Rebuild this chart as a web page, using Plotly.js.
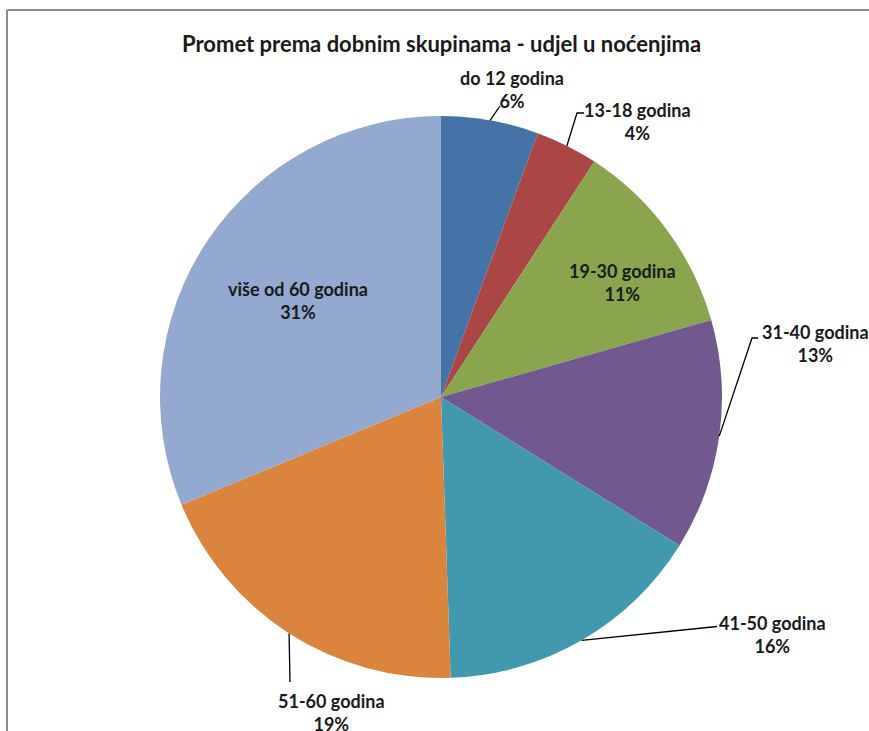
<!DOCTYPE html>
<html>
<head>
<meta charset="utf-8">
<script src="https://cdn.plot.ly/plotly-3.0.1.min.js"></script>
<style>html,body{margin:0;padding:0;background:#fff;}#chart{width:869px;height:731px;}</style>
</head>
<body>
<div id="chart"></div>
<script>
// ---- data ----
const categories = ["do 12 godina", "13-18 godina", "19-30 godina", "31-40 godina", "41-50 godina", "51-60 godina", "više od 60 godina"];
const shares = [5.6, 3.6, 11.4, 13.3, 15.6, 19.3, 31.3];
const colors = ["#4572A7", "#AA4643", "#89A54E", "#71588F", "#4198AF", "#DB843D", "#93A9D0"];
const chartTitle = "Promet prema dobnim skupinama - udjel u noćenjima";

// ---- layout (pixels) ----
const W = 869, H = 731;
const cx = 441, cy = 397, R = 281;
// label block centres (px)
const labelPos = [[512, 90], [637, 121], [622, 282], [815, 343], [772, 634], [331, 712], [298, 300]];
// leader line elbows (px) per label; null = label inside slice
const leaderPts = [
  [[500, 106]],
  [[577, 113], [584, 113]],
  null,
  [[752, 338], [758, 338]],
  [[717, 626.5]],
  [[290, 682]],
  null
];

const px = x => x / W;
const py = y => 1 - y / H;

const total = shares.reduce((a, b) => a + b, 0);
let cum = 0;
const annotations = [];
const shapes = [];
shares.forEach((v, i) => {
  const mid = (cum + v / 2) / total * 2 * Math.PI;
  cum += v;
  const pct = Math.round(v / total * 100) + "%";
  annotations.push({
    xref: "paper", yref: "paper",
    x: px(labelPos[i][0]), y: py(labelPos[i][1]),
    xanchor: "center", yanchor: "middle", showarrow: false, align: "center",
    text: categories[i] + "<br>" + pct,
    font: {family: "Lato, 'Open Sans', sans-serif", size: 18, color: "#1a1a1a", weight: "bold"}
  });
  if (leaderPts[i]) {
    const rx = cx + R * Math.sin(mid), ry = cy - R * Math.cos(mid);
    let path = "M " + px(rx) + " " + py(ry);
    leaderPts[i].forEach(p => { path += " L " + px(p[0]) + " " + py(p[1]); });
    shapes.push({type: "path", xref: "paper", yref: "paper", path: path,
      line: {color: "#000", width: 1.3}});
  }
});

// frame
shapes.push({type: "line", xref: "paper", yref: "paper", x0: px(7), x1: px(7), y0: py(10), y1: 0, line: {color: "#8c8c8c", width: 2}});
shapes.push({type: "line", xref: "paper", yref: "paper", x0: px(7), x1: 1, y0: py(10), y1: py(10), line: {color: "#8c8c8c", width: 2}});

annotations.push({
  xref: "paper", yref: "paper", x: px(441), y: py(43), xanchor: "center", yanchor: "middle",
  showarrow: false, text: chartTitle,
  font: {family: "Lato, 'Open Sans', sans-serif", size: 22, color: "#1a1a1a", weight: "bold"}
});

const trace = {
  type: "pie",
  labels: categories,
  values: shares,
  sort: false,
  direction: "clockwise",
  rotation: 0,
  textinfo: "none",
  hoverinfo: "label+percent",
  marker: {colors: colors, line: {width: 0}},
  domain: {x: [px(cx - R), px(cx + R)], y: [py(cy + R), py(cy - R)]},
  showlegend: false
};

const layout = {
  width: W, height: H,
  margin: {l: 0, r: 0, t: 0, b: 0},
  paper_bgcolor: "#fff",
  showlegend: false,
  annotations: annotations,
  shapes: shapes
};

Plotly.newPlot("chart", [trace], layout, {displayModeBar: false, staticPlot: true});
</script>
</body>
</html>
